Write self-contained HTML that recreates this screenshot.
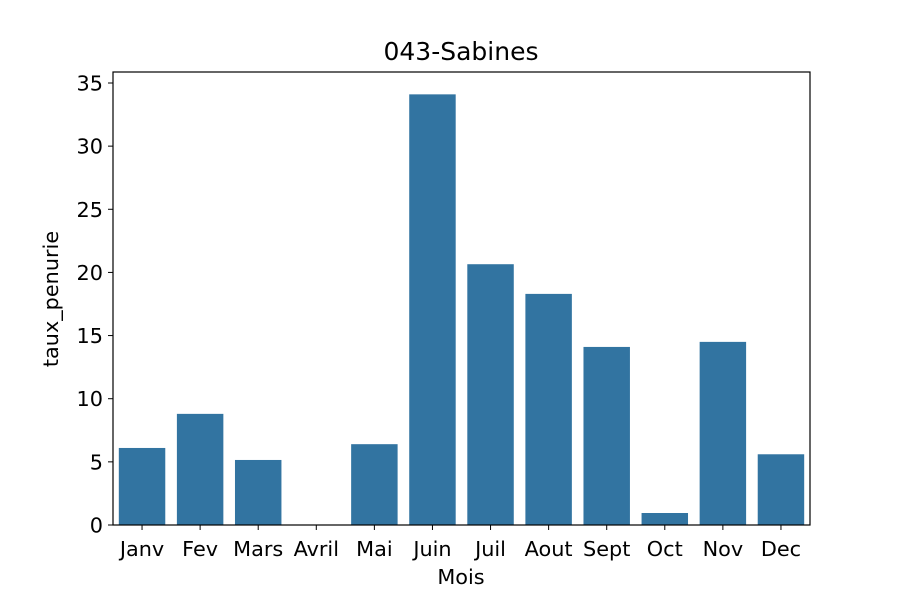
<!DOCTYPE html>
<html><head><meta charset="utf-8"><style>
body{margin:0;background:#fff;}
svg{display:block;font-family:"DejaVu Sans","Liberation Sans",sans-serif;}
</style></head><body>
<svg id="chart" width="900" height="600">
<rect width="900" height="600" fill="#fff"/>
<text x="461" y="60" font-size="25" text-anchor="middle">043-Sabines</text>
<g id="bars"></g>
<g id="xticks"></g>
<g id="yticks"></g>
<rect x="113" y="72" width="697" height="453" fill="none" stroke="#000" stroke-width="1.2"/>
<text x="461" y="584" font-size="20.8" text-anchor="middle">Mois</text>
<text transform="translate(58,299) rotate(-90)" font-size="20.8" text-anchor="middle">taux_penurie</text>
</svg>
<script>
const categories=["Janv","Fev","Mars","Avril","Mai","Juin","Juil","Aout","Sept","Oct","Nov","Dec"];
const values=[6.1,8.8,5.15,0,6.4,34.1,20.65,18.3,14.1,0.95,14.5,5.6];
const yTicks=[0,5,10,15,20,25,30,35];
const NS="http://www.w3.org/2000/svg";
const L=113,R=810,T=72,B=525,yMax=35.87;
const slot=(R-L)/categories.length;
const x=i=>L+slot*(i+0.5);
const y=v=>B-(v/yMax)*(B-T);
function mk(tag,attrs,parent){const e=document.createElementNS(NS,tag);for(const k in attrs)e.setAttribute(k,attrs[k]);parent.appendChild(e);return e;}
const gb=document.getElementById("bars"),gx=document.getElementById("xticks"),gy=document.getElementById("yticks");
categories.forEach((c,i)=>{
  const w=slot*0.8;
  const r=mk("rect",{x:x(i)-w/2,y:y(values[i]),width:w,height:B-y(values[i]),fill:"#3274a1"},gb);
  
  
  const t=mk("line",{x1:x(i),x2:x(i),y1:B,y2:B+5,stroke:"#000","stroke-width":1},gx);
  
  
  const l=mk("text",{x:x(i),y:B+31,"font-size":20.8,"text-anchor":"middle"},gx);
  l.textContent=c;
  
  
});
yTicks.forEach(v=>{
  const t=mk("line",{x1:L-5,x2:L,y1:y(v),y2:y(v),stroke:"#000","stroke-width":1},gy);
  
  
  const l=mk("text",{x:L-10,y:y(v)+7.5,"font-size":20.8,"text-anchor":"end"},gy);
  l.textContent=v;
  
  
});
</script>
</body></html>
